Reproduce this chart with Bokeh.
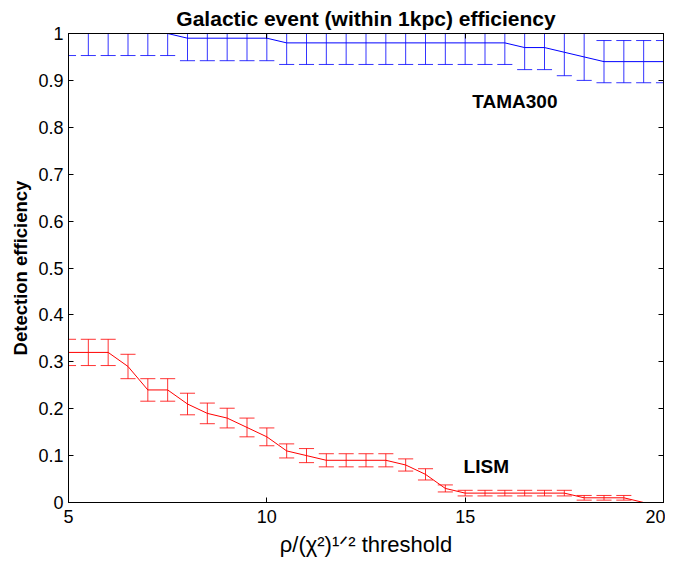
from bokeh.plotting import figure
from bokeh.models import Range1d, LinearAxis, Label, ColumnDataSource, FixedTicker
from bokeh.embed import file_html
from bokeh.resources import INLINE

# ---- data ----
threshold = [5.0, 5.5, 6.0, 6.5, 7.0, 7.5, 8.0, 8.5, 9.0, 9.5, 10.0,
             10.5, 11.0, 11.5, 12.0, 12.5, 13.0, 13.5, 14.0, 14.5, 15.0,
             15.5, 16.0, 16.5, 17.0, 17.5, 18.0, 18.5, 19.0, 19.5, 20.0]

tama_eff = [1.00, 1.00, 1.00, 1.00, 1.00, 1.00, 0.99, 0.99, 0.99, 0.99, 0.99,
            0.98, 0.98, 0.98, 0.98, 0.98, 0.98, 0.98, 0.98, 0.98, 0.98,
            0.98, 0.98, 0.97, 0.97, 0.96, 0.95, 0.94, 0.94, 0.94, 0.94]
tama_err = [0.047, 0.047, 0.047, 0.047, 0.047, 0.047, 0.048, 0.048, 0.048, 0.048, 0.048,
            0.046, 0.046, 0.046, 0.046, 0.046, 0.046, 0.046, 0.046, 0.046, 0.046,
            0.046, 0.046, 0.047, 0.047, 0.050, 0.050, 0.045, 0.045, 0.045, 0.045]

lism_eff = [0.32, 0.32, 0.32, 0.29, 0.24, 0.24, 0.21, 0.19, 0.18, 0.16, 0.14,
            0.11, 0.10, 0.09, 0.09, 0.09, 0.09, 0.08, 0.06, 0.03, 0.02,
            0.02, 0.02, 0.02, 0.02, 0.02, 0.01, 0.01, 0.01, 0.00, 0.00]
lism_err = [0.028, 0.028, 0.028, 0.026, 0.024, 0.024, 0.023, 0.022, 0.021, 0.020, 0.019,
            0.015, 0.015, 0.014, 0.014, 0.014, 0.014, 0.013, 0.012, 0.0075, 0.006,
            0.006, 0.006, 0.006, 0.006, 0.006, 0.005, 0.005, 0.005, 0.0, 0.0]

xticks = [5, 10, 15, 20]
xtick_labels = ["5", "10", "15", "20"]
yticks = [0, 0.1, 0.2, 0.3, 0.4, 0.5, 0.6, 0.7, 0.8, 0.9, 1]
ytick_labels = ["0", "0.1", "0.2", "0.3", "0.4", "0.5", "0.6", "0.7", "0.8", "0.9", "1"]

FONT = "Liberation Sans"
CAP = 0.19  # half-width of error-bar caps in x units

p = figure(frame_width=595, frame_height=469,
           x_range=Range1d(5, 20), y_range=Range1d(0, 1),
           output_backend="svg", toolbar_location=None,
           min_border_left=68, min_border_right=2,
           min_border_top=33, min_border_bottom=0,
           title="Galactic event (within 1kpc) efficiency")

p.title.align = "center"
p.title.vertical_align = "top"
p.title.text_font = FONT
p.title.text_font_size = "21px"
p.title.text_font_style = "bold"
p.title.text_color = "black"
p.title.standoff = 4

p.grid.visible = False
p.outline_line_color = "black"
p.outline_line_width = 1
p.background_fill_color = "white"
p.border_fill_color = "white"

def style_axis(ax, ticks, labels, show_labels=True):
    ax.ticker = FixedTicker(ticks=ticks)
    ax.major_label_overrides = {t: l for t, l in zip(ticks, labels)}
    ax.major_tick_in = 5
    ax.major_tick_out = 0
    ax.minor_tick_line_color = None
    ax.axis_line_color = "black"
    ax.major_tick_line_color = "black"
    ax.major_label_text_font = FONT
    ax.major_label_text_color = "black"
    if show_labels:
        ax.major_label_text_font_size = "18px"
        ax.major_label_standoff = 5
    else:
        ax.major_label_text_font_size = "0px"
        ax.major_label_text_alpha = 0
        ax.major_label_standoff = 0

style_axis(p.xaxis[0], xticks, xtick_labels)
style_axis(p.yaxis[0], yticks, ytick_labels)
p.xaxis[0].major_label_standoff = 7

p.yaxis[0].axis_label = "Detection efficiency"
p.yaxis[0].axis_label_text_font = FONT
p.yaxis[0].axis_label_text_font_size = "18.5px"
p.yaxis[0].axis_label_text_font_style = "bold"
p.yaxis[0].axis_label_text_color = "black"
p.yaxis[0].axis_label_standoff = 4

p.xaxis[0].axis_label = "ρ/(χ²)¹ᐟ² threshold"
p.xaxis[0].axis_label_text_font = FONT
p.xaxis[0].axis_label_text_font_size = "22px"
p.xaxis[0].axis_label_text_font_style = "normal"
p.xaxis[0].axis_label_text_color = "black"
p.xaxis[0].axis_label_standoff = 6

top_ax = LinearAxis()
style_axis(top_ax, xticks, xtick_labels, show_labels=False)
p.add_layout(top_ax, "above")
right_ax = LinearAxis()
style_axis(right_ax, yticks, ytick_labels, show_labels=False)
p.add_layout(right_ax, "right")

def errorbar_series(x, y, err, color):
    lo = [a - e for a, e in zip(y, err)]
    hi = [a + e for a, e in zip(y, err)]
    src = ColumnDataSource(dict(
        x=x, y=y, lo=lo, hi=hi,
        xl=[v - CAP for v in x], xr=[v + CAP for v in x]))
    p.segment(x0="x", y0="lo", x1="x", y1="hi", source=src,
              line_color=color, line_width=1, line_alpha=0.8)
    p.segment(x0="xl", y0="lo", x1="xr", y1="lo", source=src,
              line_color=color, line_width=1, line_alpha=0.8)
    p.segment(x0="xl", y0="hi", x1="xr", y1="hi", source=src,
              line_color=color, line_width=1, line_alpha=0.8)
    p.line(x="x", y="y", source=src, line_color=color, line_width=1)

errorbar_series(threshold, tama_eff, tama_err, "#0000ff")
errorbar_series(threshold, lism_eff, lism_err, "#ff0000")

p.add_layout(Label(x=15.18, y=0.855, text="TAMA300", text_font=FONT,
                   text_font_size="19px", text_font_style="bold",
                   text_baseline="middle", text_color="black"))
p.add_layout(Label(x=14.96, y=0.077, text="LISM", text_font=FONT,
                   text_font_size="19px", text_font_style="bold",
                   text_baseline="middle", text_color="black"))

open("out.html", "w").write(file_html(p, INLINE))
